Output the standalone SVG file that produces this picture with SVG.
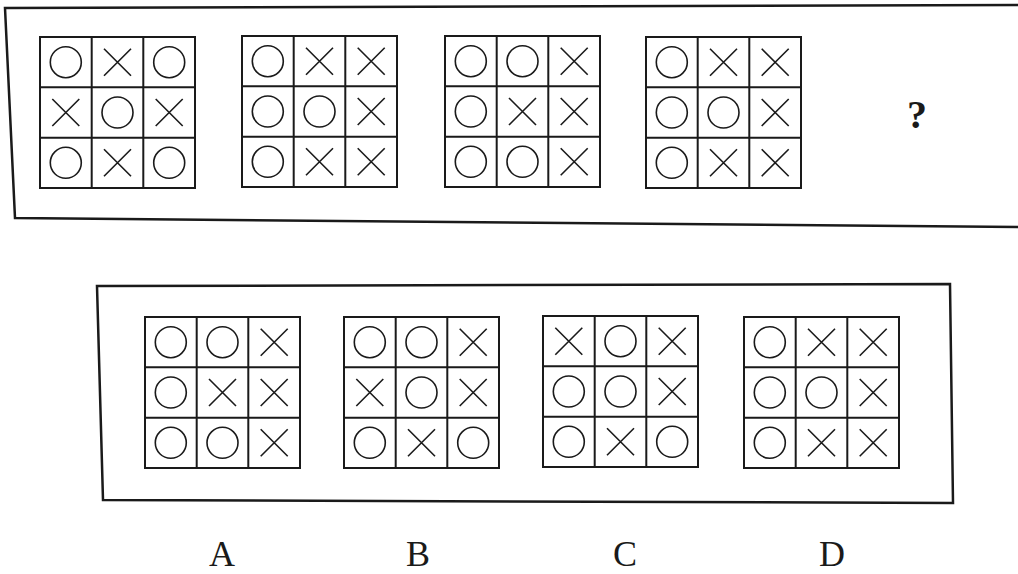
<svg xmlns="http://www.w3.org/2000/svg" xmlns:xlink="http://www.w3.org/1999/xlink" width="1018" height="574" viewBox="0 0 1018 574">
<style>
.frame{fill:none;stroke:#1a1a1a;stroke-width:2.5}
.grid{fill:#fff;stroke:#1a1a1a;stroke-width:2}
.sym{fill:none;stroke:#1a1a1a;stroke-width:1.6}
.lbl{font-family:"Liberation Serif",serif;font-size:36px;fill:#1a1a1a;text-anchor:middle}
.q{font-family:"Liberation Serif",serif;font-size:40px;font-weight:bold;fill:#1a1a1a;text-anchor:middle}
</style>
<defs>
<g id="gf">
<rect class="grid" x="0" y="0" width="155" height="151"/>
<path class="grid" d="M51.7,0V151M103.3,0V151M0,50.3H155M0,100.7H155"/>
</g>
<circle id="o" class="sym" cx="0" cy="0" r="15.5"/>
<path id="x" class="sym" d="M-13.5,-13.5L13.5,13.5M13.5,-13.5L-13.5,13.5"/>
</defs>
<rect width="1018" height="574" fill="#fff"/>
<g id="top-panel">
<polygon class="frame" points="5,8 1020,5 1020,227 15,218"/>
</g>
<g id="bottom-panel">
<polygon class="frame" points="97,286 950,284 953,503 103,500"/>
</g>
<g id="t1" transform="translate(40,37)">
<use href="#gf"/>
<use href="#o" x="25.8" y="25.2"/><use href="#x" x="77.5" y="25.2"/><use href="#o" x="129.2" y="25.2"/>
<use href="#x" x="25.8" y="75.5"/><use href="#o" x="77.5" y="75.5"/><use href="#x" x="129.2" y="75.5"/>
<use href="#o" x="25.8" y="125.8"/><use href="#x" x="77.5" y="125.8"/><use href="#o" x="129.2" y="125.8"/>
</g>
<g id="t2" transform="translate(242,36)">
<use href="#gf"/>
<use href="#o" x="25.8" y="25.2"/><use href="#x" x="77.5" y="25.2"/><use href="#x" x="129.2" y="25.2"/>
<use href="#o" x="25.8" y="75.5"/><use href="#o" x="77.5" y="75.5"/><use href="#x" x="129.2" y="75.5"/>
<use href="#o" x="25.8" y="125.8"/><use href="#x" x="77.5" y="125.8"/><use href="#x" x="129.2" y="125.8"/>
</g>
<g id="t3" transform="translate(445,36)">
<use href="#gf"/>
<use href="#o" x="25.8" y="25.2"/><use href="#o" x="77.5" y="25.2"/><use href="#x" x="129.2" y="25.2"/>
<use href="#o" x="25.8" y="75.5"/><use href="#x" x="77.5" y="75.5"/><use href="#x" x="129.2" y="75.5"/>
<use href="#o" x="25.8" y="125.8"/><use href="#o" x="77.5" y="125.8"/><use href="#x" x="129.2" y="125.8"/>
</g>
<g id="t4" transform="translate(646,37)">
<use href="#gf"/>
<use href="#o" x="25.8" y="25.2"/><use href="#x" x="77.5" y="25.2"/><use href="#x" x="129.2" y="25.2"/>
<use href="#o" x="25.8" y="75.5"/><use href="#o" x="77.5" y="75.5"/><use href="#x" x="129.2" y="75.5"/>
<use href="#o" x="25.8" y="125.8"/><use href="#x" x="77.5" y="125.8"/><use href="#x" x="129.2" y="125.8"/>
</g>
<g id="question">
<text class="q" x="917" y="128">?</text>
</g>
<g id="optA" transform="translate(145,317)">
<use href="#gf"/>
<use href="#o" x="25.8" y="25.2"/><use href="#o" x="77.5" y="25.2"/><use href="#x" x="129.2" y="25.2"/>
<use href="#o" x="25.8" y="75.5"/><use href="#x" x="77.5" y="75.5"/><use href="#x" x="129.2" y="75.5"/>
<use href="#o" x="25.8" y="125.8"/><use href="#o" x="77.5" y="125.8"/><use href="#x" x="129.2" y="125.8"/>
</g>
<g id="optB" transform="translate(344,317)">
<use href="#gf"/>
<use href="#o" x="25.8" y="25.2"/><use href="#o" x="77.5" y="25.2"/><use href="#x" x="129.2" y="25.2"/>
<use href="#x" x="25.8" y="75.5"/><use href="#o" x="77.5" y="75.5"/><use href="#x" x="129.2" y="75.5"/>
<use href="#o" x="25.8" y="125.8"/><use href="#x" x="77.5" y="125.8"/><use href="#o" x="129.2" y="125.8"/>
</g>
<g id="optC" transform="translate(543,316)">
<use href="#gf"/>
<use href="#x" x="25.8" y="25.2"/><use href="#o" x="77.5" y="25.2"/><use href="#x" x="129.2" y="25.2"/>
<use href="#o" x="25.8" y="75.5"/><use href="#o" x="77.5" y="75.5"/><use href="#x" x="129.2" y="75.5"/>
<use href="#o" x="25.8" y="125.8"/><use href="#x" x="77.5" y="125.8"/><use href="#o" x="129.2" y="125.8"/>
</g>
<g id="optD" transform="translate(744,317)">
<use href="#gf"/>
<use href="#o" x="25.8" y="25.2"/><use href="#x" x="77.5" y="25.2"/><use href="#x" x="129.2" y="25.2"/>
<use href="#o" x="25.8" y="75.5"/><use href="#o" x="77.5" y="75.5"/><use href="#x" x="129.2" y="75.5"/>
<use href="#o" x="25.8" y="125.8"/><use href="#x" x="77.5" y="125.8"/><use href="#x" x="129.2" y="125.8"/>
</g>
<g id="labels">
<text class="lbl" x="222" y="566">A</text>
<text class="lbl" x="418" y="566">B</text>
<text class="lbl" x="625" y="566">C</text>
<text class="lbl" x="832" y="566">D</text>
</g>
</svg>
